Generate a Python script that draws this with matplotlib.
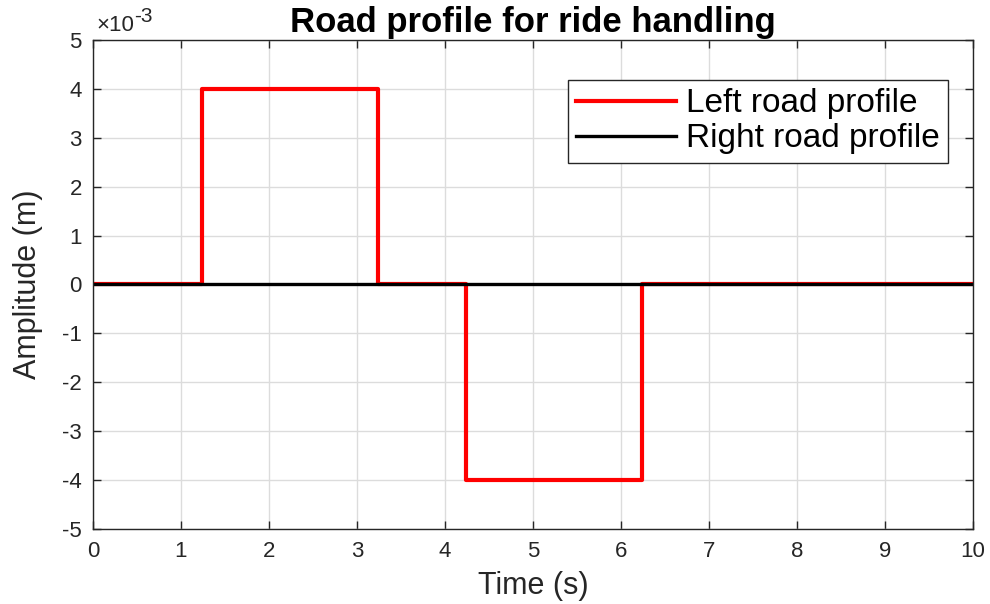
import numpy as np
import matplotlib.pyplot as plt
from matplotlib.ticker import FuncFormatter
from matplotlib.transforms import offset_copy

plt.rcParams['font.family'] = ['Liberation Sans', 'DejaVu Sans']
plt.rcParams['axes.unicode_minus'] = False

# road profile breakpoints (s) and amplitudes (m)
t_left = [0, 1.24, 1.24, 3.24, 3.24, 4.24, 4.24, 6.24, 6.24, 10]
z_left = [0, 0, 0.004, 0.004, 0, 0, -0.004, -0.004, 0, 0]
t_right = [0, 10]
z_right = [0, 0]

fig = plt.figure(figsize=(9.9, 6.04), dpi=100)
ax = fig.add_axes([0.0939, 0.1242, 0.8889, 0.8096])

ax.plot(t_left, z_left, color='red', linewidth=3.0, label='Left road profile')
ax.plot(t_right, z_right, color='black', linewidth=2.4, label='Right road profile')

ax.set_xlim(0, 10)
ax.set_ylim(-0.005, 0.005)
ax.set_xticks(np.arange(0, 11, 1))
ax.set_yticks(np.arange(-5, 6, 1) * 1e-3)
ax.yaxis.set_major_formatter(FuncFormatter(lambda v, p: '%d' % round(v * 1e3)))

# exponent label, MATLAB style
ax.text(0.004, 1.008, '×10', transform=ax.transAxes, fontsize=16,
        color='#262626', va='bottom', ha='left')
ax.text(0.004, 1.008, '-3', fontsize=15, color='#262626', va='bottom', ha='left',
        transform=offset_copy(ax.transAxes, fig=fig, x=27, y=7, units='points'))

ax.grid(True, color='#dcdcdc', linewidth=1.0)
ax.set_axisbelow(True)
ax.tick_params(direction='in', length=6, width=1, top=True, right=True,
               labelsize=16, colors='#262626')
ax.tick_params(axis='x', pad=9)
ax.tick_params(axis='y', pad=8)
for sp in ax.spines.values():
    sp.set_color('#262626')
    sp.set_linewidth(1.0)

ax.set_title('Road profile for ride handling', fontsize=25, fontweight='bold', pad=6)
ax.set_xlabel('Time (s)', fontsize=22, color='#262626', labelpad=6)
ax.set_ylabel('Amplitude (m)', fontsize=22, color='#262626', labelpad=14)

leg = ax.legend(loc='upper right', bbox_to_anchor=(0.972, 0.918), fontsize=24,
                fancybox=False, framealpha=1, edgecolor='#262626',
                handlelength=3.0, borderpad=0.25, labelspacing=0.12,
                handletextpad=0.3, borderaxespad=0)
leg.get_frame().set_linewidth(1.0)

fig.savefig('out.png', dpi=100)
